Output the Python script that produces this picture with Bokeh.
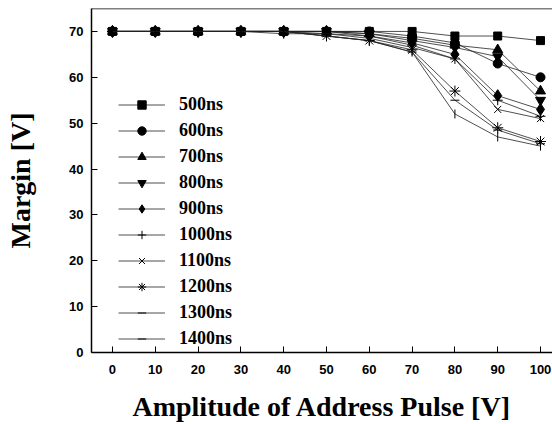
import math
from bokeh.plotting import figure
from bokeh.models import FixedTicker, Range1d, Span, Legend
from bokeh.embed import file_html
from bokeh.resources import INLINE

x_vals = [0, 10, 20, 30, 40, 50, 60, 70, 80, 90, 100]
s500 = [70, 70, 70, 70, 70, 70, 70, 70, 69, 69, 68]
s600 = [70, 70, 70, 70, 70, 70, 70, 69, 67.5, 63, 60]
s700 = [70, 70, 70, 70, 70, 70, 69.5, 68.5, 67, 66, 57]
s800 = [70, 70, 70, 70, 70, 70, 69.5, 68, 66.5, 64.5, 55]
s900 = [70, 70, 70, 70, 70, 70, 69, 67.5, 65, 56, 53]
s1000 = [70, 70, 70, 70, 69.5, 69.5, 69, 67, 64, 55, 51.5]
s1100 = [70, 70, 70, 70, 70, 69.5, 68.5, 66.5, 64, 53, 51]
s1200 = [70, 70, 70, 70, 70, 69, 68, 66, 57, 49, 46]
s1300 = [70, 70, 70, 70, 70, 69, 68, 65.5, 55, 48.5, 45.5]
s1400 = [70, 70, 70, 70, 70, 69, 68, 65.5, 52, 47, 45]
labels = ["500ns", "600ns", "700ns", "800ns", "900ns",
          "1000ns", "1100ns", "1200ns", "1300ns", "1400ns"]
series = [s500, s600, s700, s800, s900, s1000, s1100, s1200, s1300, s1400]
x_ticks = [0, 10, 20, 30, 40, 50, 60, 70, 80, 90, 100]
y_ticks = [0, 10, 20, 30, 40, 50, 60, 70]

markers = ["square", "circle", "triangle", "inverted_triangle", "diamond",
           "cross", "x", "asterisk", "dash", "dash"]
sizes = [8, 9, 10, 10, 12, 10, 10, 11, 9, 9]
angles = [0, 0, 0, 0, 0, 0, 0, 0, 0, math.pi / 2]

p = figure(width=552, height=424, output_backend="svg", toolbar_location=None,
           x_range=Range1d(-4.9, 102.8), y_range=Range1d(0, 75),
           min_border_left=91, min_border_right=0, min_border_top=8,
           min_border_bottom=69)
p.outline_line_color = None
p.xgrid.grid_line_color = None
p.ygrid.grid_line_color = None
p.background_fill_color = "white"
p.border_fill_color = "white"

p.add_layout(Span(location=75, dimension="width", line_color="black", line_width=1.5))

items = []
for lab, ys, mk, sz, ang in zip(labels, series, markers, sizes, angles):
    r1 = p.line(x_vals, ys, line_color="#222222", line_width=0.8)
    r2 = p.scatter(x_vals, ys, marker=mk, size=sz, angle=ang,
                   fill_color="black", line_color="black", line_width=1)
    items.append((lab, [r1, r2]))

legend = Legend(items=items, location=(27, 3), padding=0, margin=0,
                glyph_width=47, glyph_height=21, label_height=21, spacing=5,
                label_standoff=14,
                label_text_font="Liberation Serif", label_text_font_style="bold",
                label_text_font_size="18px", label_text_color="black",
                border_line_color=None, background_fill_alpha=0)
p.add_layout(legend, "center")

p.xaxis.ticker = FixedTicker(ticks=x_ticks)
p.yaxis.ticker = FixedTicker(ticks=y_ticks)
for ax in (p.xaxis, p.yaxis):
    ax.axis_line_color = "black"
    ax.axis_line_width = 1.5
    ax.major_tick_line_color = "black"
    ax.major_tick_out = 0
    ax.major_tick_in = 6
    ax.minor_tick_line_color = None
    ax.major_label_text_font = "Liberation Sans"
    ax.major_label_text_font_style = "bold"
    ax.major_label_text_font_size = "13px"
    ax.major_label_text_color = "black"
    ax.axis_label_text_font = "Liberation Serif"
    ax.axis_label_text_font_style = "bold"
    ax.axis_label_text_font_size = "28px"
    ax.axis_label_text_color = "black"

p.xaxis.axis_label = "Amplitude of Address Pulse [V]"
p.yaxis.axis_label = "Margin [V]"
p.xaxis.major_label_standoff = 12
p.yaxis.major_label_standoff = 8
p.xaxis.axis_label_standoff = 14
p.yaxis.axis_label_standoff = 30

open("out.html", "w").write(file_html(p, INLINE))
